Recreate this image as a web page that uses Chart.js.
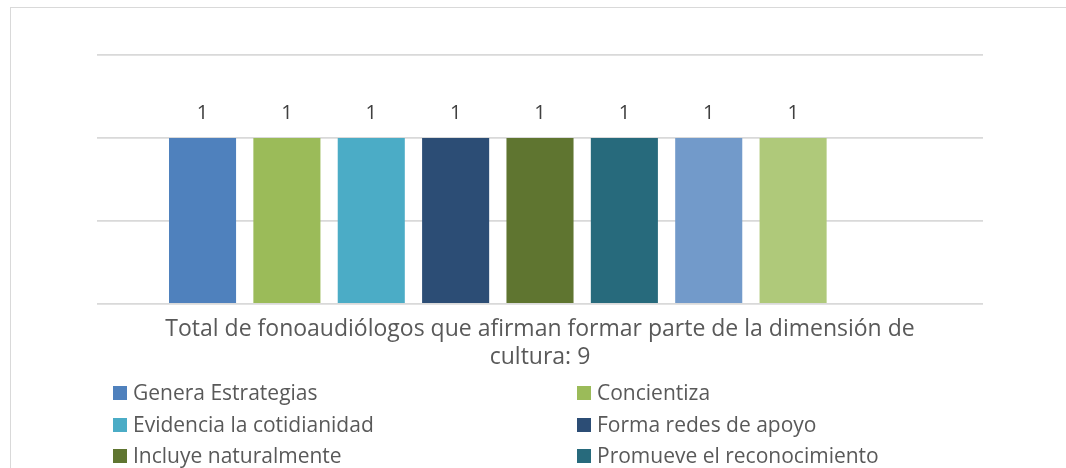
<!DOCTYPE html>
<html>
<head>
<meta charset="utf-8">
<script src="https://cdn.jsdelivr.net/npm/chart.js@4/dist/chart.umd.min.js"></script>
<style>
  html, body { margin: 0; padding: 0; background: #fff; overflow: hidden; }
  #frame {
    position: absolute; left: 10px; top: 7px; width: 1056px; height: 461px;
    border-left: 1px solid #d9d9d9; border-top: 1px solid #d9d9d9;
  }
  #wrap { position: absolute; left: 0; top: 0; width: 1066px; height: 468px; }
</style>
</head>
<body>
<div id="frame"></div>
<div id="wrap"><canvas id="chart" width="1066" height="468"></canvas></div>
<script>
// ---- Data ------------------------------------------------------------------
const categories = [""];
const seriesNames = [
  "Genera Estrategias",
  "Concientiza",
  "Evidencia la cotidianidad",
  "Forma redes de apoyo",
  "Incluye naturalmente",
  "Promueve el reconocimiento",
  "Valora la diversidad",
  "Respeta la identidad",
  "Otra"
];
const seriesValues = [1, 1, 1, 1, 1, 1, 1, 1, null];
const seriesColors = [
  "#4F81BD", "#9BBB59", "#4BACC6", "#2C4D75", "#5F7530",
  "#276A7C", "#729ACA", "#AFC97A", "#6FBDD1"
];
const axisTitle = [
  "Total de fonoaudiólogos que afirman formar parte de la dimensión de",
  "cultura: 9"
];
const yTicks = [0, 0.5, 1, 1.5];

const FONT = "'Open Sans', sans-serif";

// ---- Value labels above bars ---------------------------------------------
const valueLabels = {
  id: "valueLabels",
  afterDatasetsDraw(chart) {
    const { ctx } = chart;
    ctx.save();
    ctx.font = "20px " + FONT;
    ctx.fillStyle = "#404040";
    ctx.textAlign = "center";
    ctx.textBaseline = "middle";
    chart.data.datasets.forEach((ds, i) => {
      const meta = chart.getDatasetMeta(i);
      meta.data.forEach((bar, j) => {
        const v = ds.data[j];
        if (v === null || v === undefined) return;
        ctx.fillText(String(v), bar.x, bar.y - 25);
      });
    });
    ctx.restore();
  }
};

// ---- Two-column legend (Excel style) --------------------------------------
const gridLegend = {
  id: "gridLegend",
  afterDraw(chart) {
    const { ctx } = chart;
    const colX = [113, 577];
    const baseY = 400;   // text baseline of the first row
    const rowH = 31.5;
    ctx.save();
    ctx.font = "21px " + FONT;
    ctx.textBaseline = "alphabetic";
    ctx.textAlign = "left";
    chart.data.datasets.forEach((ds, i) => {
      const x = colX[i % 2];
      const y = Math.round(baseY + Math.floor(i / 2) * rowH);
      ctx.fillStyle = ds.backgroundColor;
      ctx.fillRect(x, y - 14, 14, 14);
      ctx.fillStyle = "#595959";
      ctx.fillText(ds.label, x + 20, y);
    });
    ctx.restore();
  }
};

const datasets = seriesNames.map((name, i) => ({
  label: name,
  data: [seriesValues[i]],
  backgroundColor: seriesColors[i],
  borderWidth: 0,
  categoryPercentage: 0.857,
  barPercentage: 0.795
}));

new Chart(document.getElementById("chart"), {
  type: "bar",
  data: { labels: categories, datasets },
  options: {
    responsive: false,
    animation: false,
    layout: { padding: { left: 97, right: 83, top: 55, bottom: 97 } },
    plugins: {
      legend: { display: false },
      tooltip: { enabled: false }
    },
    scales: {
      x: {
        grid: { display: false },
        border: { display: false },
        ticks: { display: false },
        title: {
          display: true,
          text: axisTitle,
          color: "#595959",
          font: { family: FONT, size: 23, lineHeight: 1.217 },
          padding: { top: 3, bottom: 0 }
        }
      },
      y: {
        min: yTicks[0],
        max: yTicks[yTicks.length - 1],
        afterBuildTicks: (scale) => { scale.ticks = yTicks.map((v) => ({ value: v })); },
        grid: { color: "#d9d9d9", lineWidth: 1.8, drawTicks: false },
        border: { display: false },
        ticks: { display: false }
      }
    }
  },
  plugins: [valueLabels, gridLegend]
});
</script>
</body>
</html>
